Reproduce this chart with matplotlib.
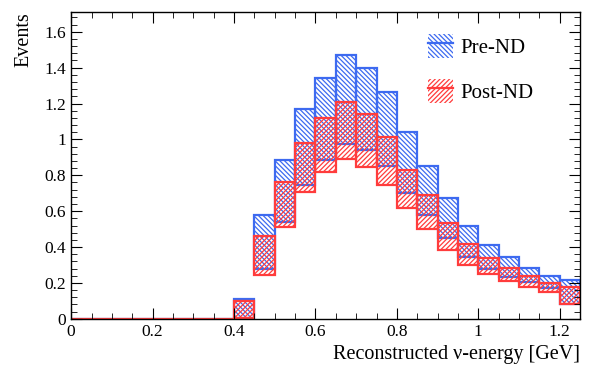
import numpy as np
import matplotlib
matplotlib.use("Agg")
import matplotlib.pyplot as plt
from matplotlib.patches import Patch
from matplotlib.lines import Line2D
from matplotlib.legend_handler import HandlerTuple
from matplotlib.ticker import MultipleLocator

plt.rcParams['font.family'] = ['Liberation Serif', 'DejaVu Serif']
plt.rcParams['hatch.linewidth'] = 0.9

bin_width = 0.05
bin_edges = np.round(np.arange(0.0, 1.25 + 1e-9, bin_width), 3)

# band values for bins 0.40 .. 1.25 (bins below 0.40 are empty)
pre_high = [0.113, 0.578, 0.888, 1.170, 1.345, 1.471, 1.397, 1.267, 1.040,
            0.851, 0.674, 0.520, 0.412, 0.342, 0.282, 0.240, 0.217]
pre_low = [0.004, 0.276, 0.542, 0.747, 0.886, 0.977, 0.941, 0.854, 0.704,
           0.576, 0.452, 0.344, 0.279, 0.236, 0.204, 0.171, 0.085]
post_high = [0.100, 0.464, 0.760, 0.982, 1.122, 1.207, 1.140, 1.016, 0.830,
             0.689, 0.535, 0.416, 0.338, 0.286, 0.241, 0.202, 0.177]
post_low = [0.003, 0.243, 0.514, 0.706, 0.817, 0.889, 0.845, 0.747, 0.617,
            0.503, 0.384, 0.301, 0.249, 0.212, 0.177, 0.149, 0.080]

n_empty = 8
def full(vals):
    return np.array([0.0] * n_empty + list(vals))

left = bin_edges[:-1]
pre_lo, pre_hi = full(pre_low), full(pre_high)
post_lo, post_hi = full(post_low), full(post_high)

blue = '#3d6af0'
red = '#ff3c3c'
hatch_blue = '\\' * 7
hatch_red = '/' * 7

fig = plt.figure(figsize=(5.98, 3.76), dpi=100)
ax = fig.add_axes([0.119, 0.152, 0.851, 0.816])

ax.bar(left, pre_hi - pre_lo, bottom=pre_lo, width=bin_width, align='edge',
       fill=False, hatch=hatch_blue, edgecolor=blue, linewidth=1.6)
ax.bar(left, post_hi - post_lo, bottom=post_lo, width=bin_width, align='edge',
       fill=False, hatch=hatch_red, edgecolor=red, linewidth=1.6)

ax.set_xlim(0, 1.25)
ax.set_ylim(0, 1.71)
ax.xaxis.set_major_locator(MultipleLocator(0.2))
ax.xaxis.set_minor_locator(MultipleLocator(0.05))
ax.yaxis.set_major_locator(MultipleLocator(0.2))
ax.yaxis.set_minor_locator(MultipleLocator(0.04))
ax.tick_params(which='both', direction='in', top=True, right=True, labelsize=12.5)
ax.tick_params(which='major', length=8)
ax.tick_params(which='minor', length=4)
for s in ax.spines.values():
    s.set_linewidth(1.0)

def fmt(v, p):
    s = f"{v:.1f}"
    if s.endswith('.0'):
        s = s[:-2]
    return s
ax.xaxis.set_major_formatter(plt.FuncFormatter(fmt))
ax.yaxis.set_major_formatter(plt.FuncFormatter(fmt))

ax.set_xlabel('Reconstructed ν-energy [GeV]', fontsize=14.5, loc='right')
ax.set_ylabel('Events', fontsize=14.5, loc='top', labelpad=8)

h_pre = (Patch(facecolor='none', edgecolor=blue, hatch=hatch_blue, linewidth=0),
         Line2D([], [], color=blue, linewidth=1.6))
h_post = (Patch(facecolor='none', edgecolor=red, hatch=hatch_red, linewidth=0),
          Line2D([], [], color=red, linewidth=1.6))
ax.legend([h_pre, h_post], ['Pre-ND', 'Post-ND'],
          handler_map={tuple: HandlerTuple(ndivide=1, pad=0)},
          loc='upper left', bbox_to_anchor=(0.665, 0.99), frameon=False,
          fontsize=15, handlelength=1.2, handleheight=1.4, labelspacing=1.0,
          handletextpad=0.35)

fig.savefig('out.png', dpi=100)
